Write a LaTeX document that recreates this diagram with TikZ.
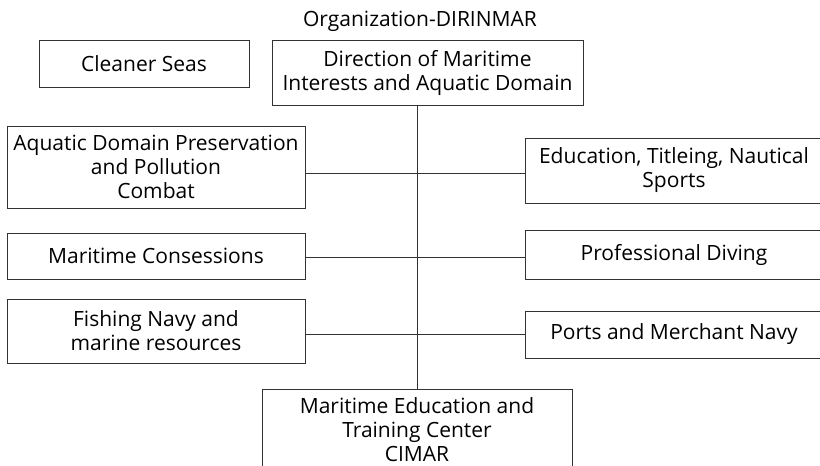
\documentclass[tikz,border=0pt]{standalone}
\usepackage{fontspec}
\setmainfont{Open Sans}
\begin{document}
\begin{tikzpicture}[x=1pt,y=-1pt,
  unit/.style={draw=black!80, line width=1pt, inner sep=0pt, outer sep=0pt,
    anchor=north west, align=center, font=\fontsize{21}{24}\selectfont},
  link/.style={draw=black!80, line width=1pt}]
\useasboundingbox (0,0) rectangle (820,466);
\clip (0,0) rectangle (820,466);

% title
\node[font=\fontsize{21}{24}\selectfont, anchor=base] (title) at (420,26) {Organization-DIRINMAR};

% top row
\node[unit, minimum width=210pt, minimum height=47pt] (seas) at (39,40) {Cleaner Seas};
\node[unit, minimum width=311pt, minimum height=65pt] (dir) at (272,40)
  {Direction of Maritime\\Interests and Aquatic Domain};

% left column
\node[unit, minimum width=298pt, minimum height=82pt] (aq) at (7,126)
  {Aquatic Domain Preservation\\and Pollution\\Combat};
\node[unit, minimum width=298pt, minimum height=46pt] (cons) at (7,233)
  {Maritime Consessions};
\node[unit, minimum width=298pt, minimum height=64pt] (fish) at (7,299)
  {Fishing Navy and\\marine resources};

% right column
\node[unit, minimum width=298pt, minimum height=65pt] (edu) at (525,138)
  {Education, Titleing, Nautical\\Sports};
\node[unit, minimum width=298pt, minimum height=49pt] (dive) at (525,230)
  {Professional Diving};
\node[unit, minimum width=298pt, minimum height=47pt] (ports) at (525,311)
  {Ports and Merchant Navy};

% bottom box, running past the lower edge
\node[unit, minimum width=310pt, inner ysep=8.5pt, anchor=north] (cimar) at (417,389)
  {Maritime Education and\\Training Center\\CIMAR};

% connectors
\coordinate (j1) at (417,173);
\coordinate (j2) at (417,257);
\coordinate (j3) at (417,334);
\draw[link] (dir.south -| cimar.north) -- (cimar.north);
\draw[link] (aq.east |- j1) -- (edu.west |- j1);
\draw[link] (cons.east |- j2) -- (dive.west |- j2);
\draw[link] (fish.east |- j3) -- (ports.west |- j3);
\end{tikzpicture}
\end{document}
